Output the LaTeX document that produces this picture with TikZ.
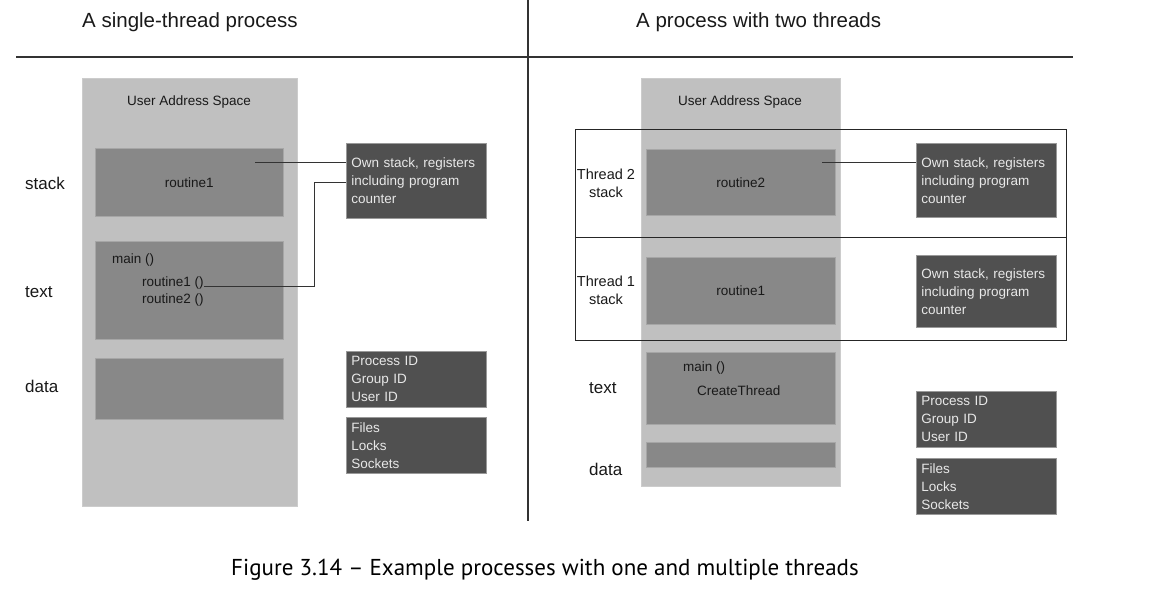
\documentclass[tikz,border=0pt]{standalone}
\usepackage{fontspec}
\setmainfont{Liberation Sans}
\newfontfamily\capfont{PT Sans}
\usetikzlibrary{positioning}
\definecolor{spacegray}{HTML}{C0C0C0}
\definecolor{boxgray}{HTML}{888888}
\definecolor{infogray}{HTML}{505050}
\definecolor{infotext}{HTML}{E8E8E8}

\begin{document}
\begin{tikzpicture}[x=1pt,y=-1pt,
    every node/.style={font=\fontsize{13.5}{18}\selectfont, inner sep=0pt, text=black!90},
    heading/.style={font=\fontsize{20.5}{24}\selectfont, anchor=west},
    seglabel/.style={font=\fontsize{17}{20}\selectfont, anchor=west},
    addrspace/.style={fill=spacegray, draw=black!20, line width=0.6pt},
    segbox/.style={fill=boxgray, draw=black!35, line width=0.6pt, anchor=north west},
    infobox/.style={fill=infogray, draw=black!40, line width=0.6pt, text=infotext,
        anchor=north west, align=left, text width=130pt, inner xsep=5pt},
    rule/.style={draw=black!80, line width=1.2pt},
    frame/.style={draw=black!85, line width=1pt},
    link/.style={draw=black!80, line width=1pt}]
    %
    \useasboundingbox[fill=white] (0,0) rectangle (1159,598);
    %
    % dividers
    \draw[rule] (16,57) -- (1073,57);
    \draw[rule] (528,0) -- (528,521);
    \node[heading] (titleL) at (82,22) {A single-thread process};
    \node[heading] (titleR) at (636,22) {A process with two threads};
    %
    % ---- single-thread process ----
    \node[addrspace, anchor=north west, minimum width=215pt, minimum height=428pt] (spaceL) at (82,78) {};
    \node (uasL) at (189,102) {User Address Space};
    \node[segbox, minimum width=188pt, minimum height=68pt] (stackL) at (95,148) {routine1};
    \node[segbox, minimum width=188pt, minimum height=98pt] (textL) at (95,241) {};
    \node[segbox, minimum width=188pt, minimum height=61pt] (dataL) at (95,358) {};
    \node[anchor=west] (mainL) at (112,260) {main ()};
    \node[anchor=west] (callA) at (142,283) {routine1 ()};
    \node[anchor=west] (callB) at (142,300) {routine2 ()};
    %
    \node[seglabel] (stackLblL) at (25,183) {stack};
    \node[seglabel] (textLblL) at (25,292) {text};
    \node[seglabel] (dataLblL) at (25,386) {data};
    %
    \node[infobox, minimum height=75pt] (ownL) at (346,143) {Own stack, registers\\including program\\counter};
    \node[infobox, minimum height=56pt] (idsL) at (346,351) {Process ID\\Group ID\\User ID};
    \node[infobox, minimum height=56pt] (resL) at (346,417) {Files\\Locks\\Sockets};
    %
    \coordinate (tipL) at (255,162);
    \coordinate (jogL) at (314,182);
    \draw[link] (tipL) -- (tipL -| ownL.west);
    \draw[link] ([yshift=-3pt]callA.east) -| (jogL) -- (jogL -| ownL.west);
    %
    % ---- process with two threads ----
    \node[addrspace, anchor=north west, minimum width=199pt, minimum height=408pt] (spaceR) at (641,78) {};
    \node (uasR) at (740,102) {User Address Space};
    \draw[frame] (575,129) rectangle (1066,237);
    \draw[frame] (575,237) rectangle (1066,340);
    \node[segbox, minimum width=189pt, minimum height=66pt] (stackTwo) at (646,149) {routine2};
    \node[segbox, minimum width=189pt, minimum height=67pt] (stackOne) at (646,257) {routine1};
    \node[segbox, minimum width=189pt, minimum height=72pt] (textR) at (646,352) {};
    \node[segbox, minimum width=189pt, minimum height=25pt] (dataR) at (646,442) {};
    \node[anchor=west] (mainR) at (683,368) {main ()};
    \node[anchor=west] (create) at (697,391) {CreateThread};
    %
    \node[align=center, font=\fontsize{14.5}{18}\selectfont] (thrTwoLbl) at (606,183) {Thread 2\\stack};
    \node[align=center, font=\fontsize{14.5}{18}\selectfont] (thrOneLbl) at (606,290) {Thread 1\\stack};
    \node[seglabel] (textLblR) at (589,388) {text};
    \node[seglabel] (dataLblR) at (589,469) {data};
    %
    \node[infobox, minimum height=74pt] (ownTwo) at (916,143) {Own stack, registers\\including program\\counter};
    \node[infobox, minimum height=72pt] (ownOne) at (916,255) {Own stack, registers\\including program\\counter};
    \node[infobox, minimum height=56pt] (idsR) at (916,391) {Process ID\\Group ID\\User ID};
    \node[infobox, minimum height=56pt] (resR) at (916,458) {Files\\Locks\\Sockets};
    %
    \coordinate (tipR) at (822,162);
    \draw[link] (tipR) -- (tipR -| ownTwo.west);
    %
    % caption
    \node[font=\capfont\fontsize{23}{27}\selectfont, text=black] (caption) at (545,570)
        {Figure 3.14 – Example processes with one and multiple threads};
\end{tikzpicture}
\end{document}
